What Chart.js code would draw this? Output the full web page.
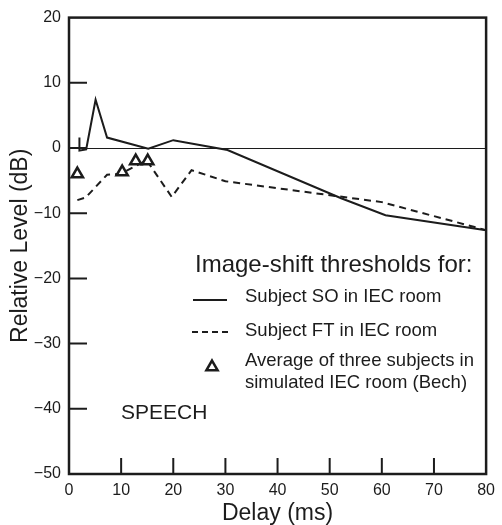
<!DOCTYPE html>
<html>
<head>
<meta charset="utf-8">
<script src="https://cdn.jsdelivr.net/npm/chart.js@4.4.1/dist/chart.umd.min.js"></script>
<style>
  html, body { margin: 0; padding: 0; background: #fff; }
</style>
</head>
<body>
<canvas id="graph" width="502" height="525"></canvas>
<script>
// Subject SO in IEC room (solid)
var soDelay = [2, 2, 3.3, 5.1, 7.3, 15.2, 20, 30.4, 52.2, 60.7, 80];
var soLevel = [1.6, -0.4, -0.2, 7.4, 1.6, -0.1, 1.2, -0.3, -7.7, -10.3, -12.6];
// Subject FT in IEC room (dashed)
var ftDelay = [1.6, 3.2, 7.3, 9.8, 14.9, 19.7, 23.5, 30, 60, 80];
var ftLevel = [-8, -7.6, -4.1, -4.0, -1.9, -7.5, -3.4, -5.1, -8.3, -12.6];
// average of three subjects, simulated room (Bech)
var bechDelay = [1.6, 10.2, 12.8, 15.1];
var bechLevel = [-4.0, -3.7, -2.0, -2.0];

var xTicks = [0, 10, 20, 30, 40, 50, 60, 70, 80];
var yTicks = [-50, -40, -30, -20, -10, 0, 10, 20];

var legendTitle = 'Image-shift thresholds for:';
var legendItems = ['Subject SO in IEC room', 'Subject FT in IEC room',
  ['Average of three subjects in', 'simulated IEC room (Bech)']];

var ink = '#1c1c1c';
var font = 'Arial, "Liberation Sans", sans-serif';

function pts(xs, ys) {
  var out = [];
  for (var i = 0; i < xs.length; i++) out.push({x: xs[i], y: ys[i]});
  return out;
}

function minus(v) {
  return v < 0 ? '\u2212' + Math.abs(v) : '' + v;
}

// frame, inner tick marks, zero line, legend box, label
var decor = {
  id: 'decor',
  afterDatasetsDraw: function(chart) {
    var ctx = chart.ctx, a = chart.chartArea;
    var xs = chart.scales.x, ys = chart.scales.y;
    ctx.save();
    ctx.strokeStyle = ink;
    ctx.lineCap = 'butt';

    // zero line
    ctx.lineWidth = 1;
    var y0 = Math.round(ys.getPixelForValue(0)) + 0.5;
    ctx.beginPath(); ctx.moveTo(a.left, y0); ctx.lineTo(a.right, y0); ctx.stroke();

    // inner ticks
    ctx.lineWidth = 2;
    ctx.beginPath();
    xTicks.forEach(function(v) {
      if (v == xTicks[0] || v == xTicks[xTicks.length - 1]) return;
      var px = xs.getPixelForValue(v);
      ctx.moveTo(px, a.bottom); ctx.lineTo(px, a.bottom - 16);
    });
    yTicks.forEach(function(v) {
      if (v == yTicks[0] || v == yTicks[yTicks.length - 1]) return;
      var py = ys.getPixelForValue(v);
      ctx.moveTo(a.left, py); ctx.lineTo(a.left + 18, py);
    });
    ctx.stroke();

    // frame
    ctx.lineWidth = 2.5;
    ctx.strokeRect(a.left, a.top, a.right - a.left, a.bottom - a.top);

    // legend
    ctx.fillStyle = ink;
    ctx.textBaseline = 'middle';
    ctx.textAlign = 'left';
    ctx.font = '24px ' + font;
    ctx.fillText(legendTitle, 195, 265);

    ctx.font = '18.5px ' + font;
    ctx.lineWidth = 2;
    ctx.beginPath(); ctx.moveTo(193, 300); ctx.lineTo(227, 300); ctx.stroke();
    ctx.fillText(legendItems[0], 245, 297);

    ctx.setLineDash([6, 4]);
    ctx.beginPath(); ctx.moveTo(192, 332); ctx.lineTo(228, 332); ctx.stroke();
    ctx.setLineDash([]);
    ctx.fillText(legendItems[1], 245, 331);

    // triangle marker
    var r = 6.5, cx = 212, cy = 367;
    ctx.lineWidth = 2.5;
    ctx.fillStyle = '#fff';
    ctx.beginPath();
    ctx.moveTo(cx, cy - r);
    ctx.lineTo(cx + r * 0.866, cy + r / 2);
    ctx.lineTo(cx - r * 0.866, cy + r / 2);
    ctx.closePath();
    ctx.fill(); ctx.stroke();
    ctx.fillStyle = ink;
    ctx.fillText(legendItems[2][0], 245, 361);
    ctx.fillText(legendItems[2][1], 245, 383);

    ctx.font = '21px ' + font;
    ctx.fillText('SPEECH', 121, 413);
    ctx.restore();
  }
};

var data = {
  datasets: [{
    label: legendItems[2].join(' '),
    data: pts(bechDelay, bechLevel),
    showLine: false,
    pointStyle: 'triangle',
    pointRadius: 6.5,
    pointBackgroundColor: '#fff',
    pointBorderColor: ink,
    pointBorderWidth: 2.5
  }, {
    label: legendItems[0],
    data: pts(soDelay, soLevel),
    borderColor: ink,
    borderWidth: 2,
    pointRadius: 0,
    tension: 0
  }, {
    label: legendItems[1],
    data: pts(ftDelay, ftLevel),
    borderColor: ink,
    borderWidth: 2,
    borderDash: [7, 5],
    pointRadius: 0,
    tension: 0
  }]
};

var config = {
  type: 'line',
  data: data,
  options: {
    responsive: false,
    animation: false,
    layout: { padding: { left: 0, right: 10, top: 17, bottom: 0 } },
    plugins: { legend: { display: false }, tooltip: { enabled: false } },
    scales: {
      x: {
        type: 'linear',
        min: 0, max: 80,
        afterFit: function(s) { s.height = 51; },
        afterBuildTicks: function(s) { s.ticks = xTicks.map(function(v) { return {value: v}; }); },
        grid: { display: false, drawTicks: false },
        border: { display: false },
        ticks: { color: ink, padding: 7, font: { family: font, size: 16 }, maxRotation: 0 },
        title: { display: true, text: 'Delay (ms)', color: ink, padding: 0,
                 font: { family: font, size: 23, lineHeight: 1.0 } }
      },
      y: {
        type: 'linear',
        min: -50, max: 20,
        afterFit: function(s) { s.width = 69; },
        afterBuildTicks: function(s) { s.ticks = yTicks.map(function(v) { return {value: v}; }); },
        grid: { display: false, drawTicks: false },
        border: { display: false },
        ticks: { color: ink, padding: 8, font: { family: font, size: 16 },
                 callback: function(v) { return minus(v); } },
        title: { display: true, text: 'Relative Level (dB)', color: ink, padding: { top: 9, bottom: 0 },
                 font: { family: font, size: 23, lineHeight: 1.0 } }
      }
    }
  },
  plugins: [decor]
};

var graph = new Chart(document.getElementById('graph'), config);
</script>
</body>
</html>
